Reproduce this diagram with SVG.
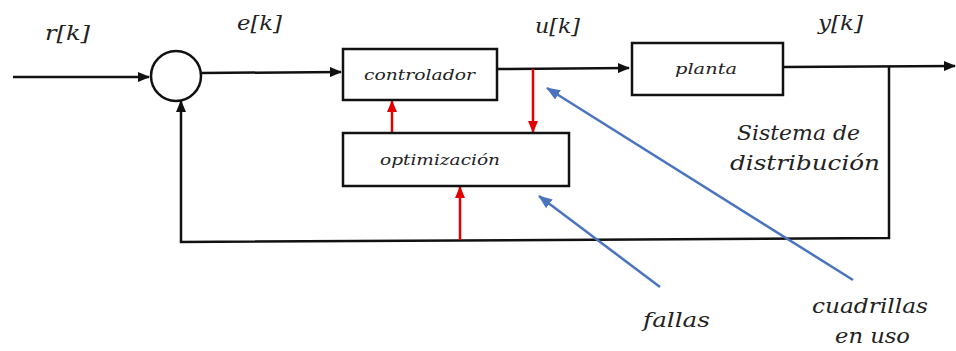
<svg xmlns="http://www.w3.org/2000/svg" width="956" height="351" viewBox="0 0 956 351">
<style>
.ln{fill:none;stroke:#111;stroke-width:2.5}
.bx{fill:#fff;stroke:#111;stroke-width:2.5}
.red{fill:none;stroke:#e00000;stroke-width:2.5}
.blue{fill:none;stroke:#4a74bf;stroke-width:2.5}
</style>
<defs>
<marker id="ab" markerWidth="12" markerHeight="10" refX="11" refY="5" orient="auto" markerUnits="userSpaceOnUse"><path d="M0,0 L12,5 L0,10 Z" fill="#111"/></marker>
<marker id="ar" markerWidth="12" markerHeight="10" refX="11" refY="5" orient="auto" markerUnits="userSpaceOnUse"><path d="M0,0 L12,5 L0,10 Z" fill="#e00000"/></marker>
<marker id="au" markerWidth="14" markerHeight="11" refX="13" refY="5.5" orient="auto" markerUnits="userSpaceOnUse"><path d="M0,0 L14,5.5 L0,11 Z" fill="#4a74bf"/></marker>
</defs>
<g id="connectors">
<path class="ln" d="M13,77 L149,77" marker-end="url(#ab)"/>
<path class="ln" d="M202,73 L341,72" marker-end="url(#ab)"/>
<path class="ln" d="M497,69 L629,68" marker-end="url(#ab)"/>
<path class="ln" d="M783,67 L955,66" marker-end="url(#ab)"/>
<path class="ln" d="M889,66 L889,238 L181,242 L181,101" marker-end="url(#ab)"/>
<path class="red" d="M392,133 L392,101" marker-end="url(#ar)"/>
<path class="red" d="M533,69 L533,132" marker-end="url(#ar)"/>
<path class="red" d="M460,240 L460,187" marker-end="url(#ar)"/>
<path class="blue" d="M853,280 L547,88" marker-end="url(#au)"/>
<path class="blue" d="M660,287 L539,196" marker-end="url(#au)"/>
</g>
<g id="sum"><circle cx="176" cy="76" r="25" class="bx"/></g>
<g font-family="DejaVu Serif, serif" font-style="italic" fill="#222">
<g id="controlador"><rect x="343" y="49" width="154" height="51" class="bx"/><text x="364" y="80" font-size="15" textLength="111" lengthAdjust="spacingAndGlyphs">controlador</text></g>
<g id="planta"><rect x="632" y="43" width="151" height="52" class="bx"/><text x="675" y="74" font-size="15" textLength="62" lengthAdjust="spacingAndGlyphs">planta</text></g>
<g id="optimizacion"><rect x="343" y="133" width="226" height="53" class="bx"/><text x="380" y="165" font-size="15" textLength="120" lengthAdjust="spacingAndGlyphs">optimización</text></g>
<g id="labels" font-size="21">
<text x="45" y="40" textLength="45" lengthAdjust="spacingAndGlyphs">r[k]</text>
<text x="237" y="30" textLength="45" lengthAdjust="spacingAndGlyphs">e[k]</text>
<text x="535" y="33" textLength="45" lengthAdjust="spacingAndGlyphs">u[k]</text>
<text x="818" y="30" textLength="45" lengthAdjust="spacingAndGlyphs">y[k]</text>
<text x="737" y="140" textLength="123" lengthAdjust="spacingAndGlyphs">Sistema de</text>
<text x="730" y="170" textLength="150" lengthAdjust="spacingAndGlyphs">distribución</text>
<text x="643" y="327" textLength="67" lengthAdjust="spacingAndGlyphs">fallas</text>
<text x="812" y="313" textLength="116" lengthAdjust="spacingAndGlyphs">cuadrillas</text>
<text x="835" y="343" textLength="75" lengthAdjust="spacingAndGlyphs">en uso</text>
</g>
</g>
</svg>
